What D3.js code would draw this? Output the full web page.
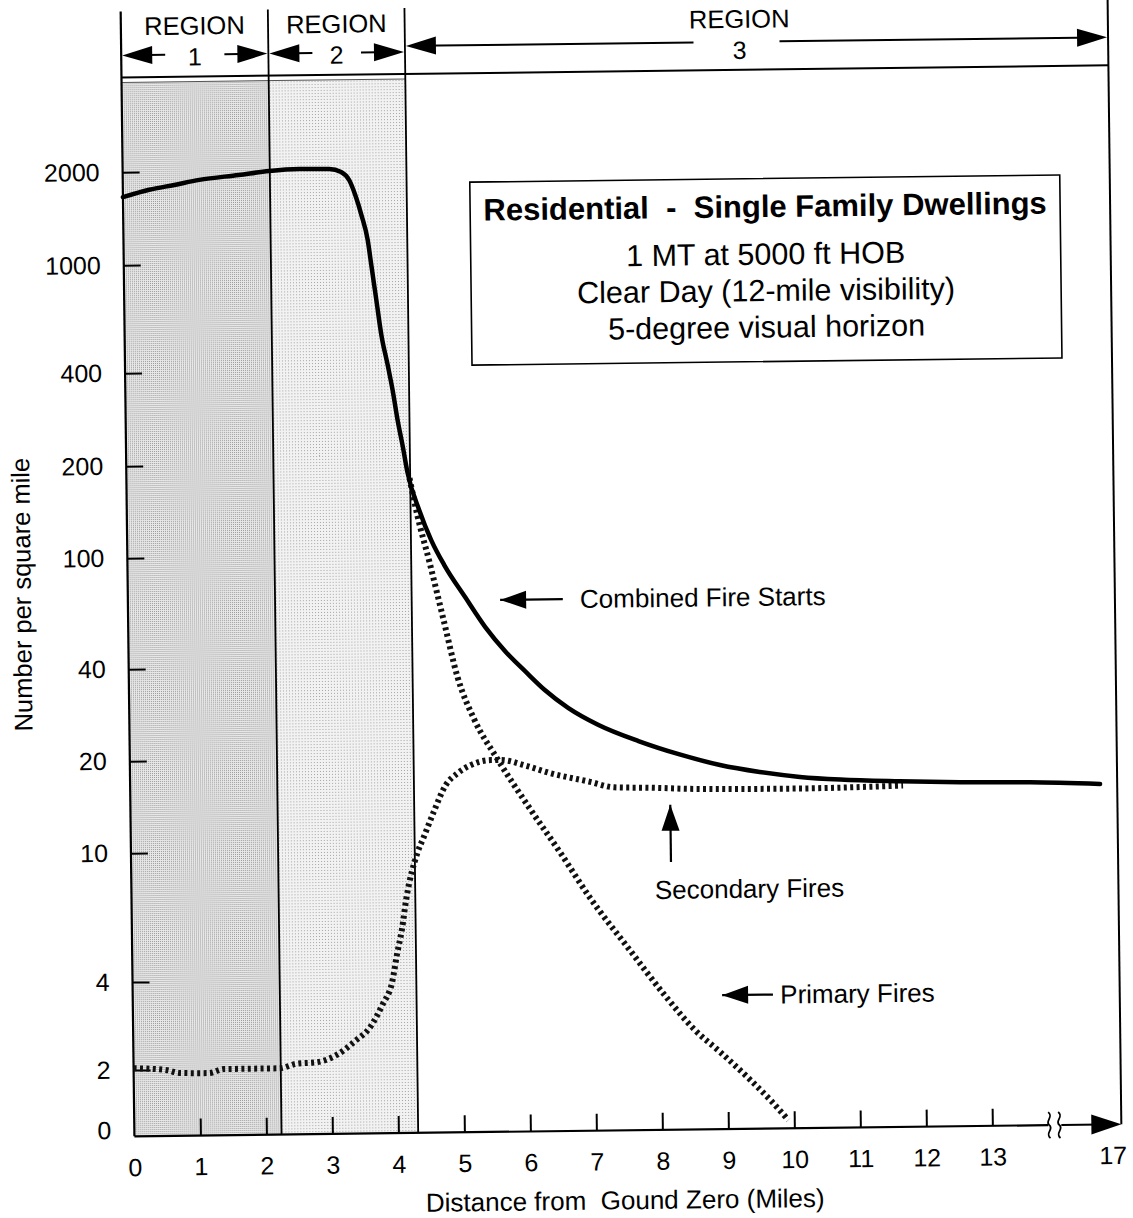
<!DOCTYPE html>
<html><head><meta charset="utf-8">
<script src="https://cdn.jsdelivr.net/npm/d3@7"></script>
<style>
html,body{margin:0;padding:0;background:#fff;}
svg{display:block;font-family:"Liberation Sans",Arial,Helvetica,sans-serif;}
</style></head><body>
<svg id="chart" width="1133" height="1218"></svg>
<script>
// ---------------- DATA ----------------
const xLabelValues = [0,1,2,3,4,5,6,7,8,9,10,11,12,13,17];
const xTickMarkValues = [1,2,3,4,5,6,7,8,9,10,11,12,13];
const yTickValues = [0,2,4,10,20,40,100,200,400,1000,2000];
const yTickLabels = ["0","2","4","10","20","40","100","200","400","1000","2000"];

const regionBounds = [0, 2.23, 4.30, 17];
const regionNames = ["1","2","3"];

const combinedX = [0,0.40,0.78,1.16,1.76,2.22,2.68,3.13,3.31,3.43,3.52,3.61,3.70,3.75,3.82,3.89,3.98,4.05,4.12,4.19,4.26,4.43,4.61,4.80,5.11,5.41,5.72,6.02,6.30,6.65,7.10,7.71,8.33,8.94,9.54,10.15,10.76,11.66,12.58,14.30,16.47];
const combinedY = [1660,1750,1810,1875,1938,1991,2014,2010,1963,1848,1652,1422,1180,977,725,538,417,344,275,228,186,140,111,91.5,70.1,54.6,44.3,37.7,32.9,28.7,25.2,22.2,20.0,18.4,17.4,16.7,16.3,16.0,15.8,15.7,15.4];

const primaryX = [4.29,4.40,4.58,4.78,4.98,5.23,5.56,6.05,6.50,6.94,7.54,8.06,8.51,8.89,9.34,9.64,9.91];
const primaryY = [178,135,93.2,58.1,36.6,26.4,19.8,13.5,9.70,7.03,4.81,3.43,2.60,2.18,1.67,1.35,1.09];

const secondaryX = [0,0.51,0.69,1.14,1.37,2.21,2.47,2.77,3.08,3.38,3.58,3.78,3.94,4.01,4.09,4.16,4.34,4.44,4.59,4.78,4.96,5.16,5.47,5.62,5.98,6.36,6.97,7.34,7.89,8.57,10.09,11.71];
const secondaryY = [2.03,1.99,1.93,1.92,2.0,2.0,2.07,2.09,2.21,2.48,2.72,3.26,3.96,4.74,5.66,7.0,9.77,11.0,13.2,16.2,17.7,18.8,19.5,19.5,18.7,17.6,16.4,15.7,15.6,15.4,15.3,15.5];

// annotation anchors (data units)
const annotations = [
  {text:"Combined Fire Starts", tip:[5.64,68.2], tail:[6.59,68.2], label:[6.85,68.2]},
  {text:"Secondary Fires", tip:[8.18,13.7], tail:[8.18,8.96], label:[7.93,7.36]},
  {text:"Primary Fires", tip:[8.93,3.41], tail:[9.70,3.41], label:[9.81,3.41]}
];
const boxLines = ["Residential  -  Single Family Dwellings","1 MT at 5000 ft HOB","Clear Day (12-mile visibility)","5-degree visual horizon"];

// ---------------- LAYOUT ----------------
const L = {left:128, right:1115, top:72, bottom:1131};
const x = d3.scaleLinear().domain([0,13,17]).range([L.left, 986, L.right]);
const yPos = [1131,1064.8,976.8,847.8,755.8,663.8,552.8,460.8,367.8,259.8,166.8];
const yT = v => Math.log10(Math.max(v,1));
const yLin = d3.scaleLinear().domain(yTickValues.map(yT)).range(yPos);
const y = v => yLin(yT(v));

const svg = d3.select("#chart");
const defs = svg.append("defs");
const p1 = defs.append("pattern").attr("id","stip1").attr("patternUnits","userSpaceOnUse").attr("width",2).attr("height",2);
p1.append("rect").attr("width",2).attr("height",2).attr("fill","#e8e8e8");
p1.append("rect").attr("width",1).attr("height",1).attr("fill","#9a9a9a");
const p2 = defs.append("pattern").attr("id","stip2").attr("patternUnits","userSpaceOnUse").attr("width",3).attr("height",3);
p2.append("rect").attr("width",3).attr("height",3).attr("fill","#f2f2f2");
p2.append("rect").attr("width",1).attr("height",1).attr("fill","#a4a4a4");

const g = svg.append("g").attr("transform","rotate(-0.7 566 609)");

// shaded regions
const regions = regionNames.map((n,i)=>({name:n, x0:regionBounds[i], x1:regionBounds[i+1]}));
g.selectAll("rect.shade").data(regions.slice(0,2)).join("rect").attr("class","shade")
  .attr("x",d=>x(d.x0)).attr("y",L.top+5)
  .attr("width",d=>x(d.x1)-x(d.x0)).attr("height",L.bottom-L.top-5)
  .attr("fill",(d,i)=>`url(#stip${i+1})`);
g.append("line").attr("x1",L.left).attr("x2",x(regionBounds[2])).attr("y1",L.top+5).attr("y2",L.top+5)
  .attr("stroke","#555").attr("stroke-width",1);

// frame
const frame = g.append("g").attr("stroke","#000").attr("fill","none");
frame.append("line").attr("x1",L.left).attr("x2",L.right).attr("y1",L.top).attr("y2",L.top).attr("stroke-width",2);
frame.append("line").attr("x1",L.left).attr("x2",L.left).attr("y1",6).attr("y2",L.bottom).attr("stroke-width",2.2);
frame.append("line").attr("x1",L.right).attr("x2",L.right).attr("y1",6).attr("y2",L.bottom).attr("stroke-width",2);
regionBounds.slice(1,3).forEach(b=>{
  frame.append("line").attr("x1",x(b)).attr("x2",x(b)).attr("y1",6).attr("y2",L.bottom).attr("stroke-width",1.8);
});

// x axis baseline with break and arrow
const breakX = 1048;
frame.append("line").attr("x1",L.left).attr("x2",breakX-6).attr("y1",L.bottom).attr("y2",L.bottom).attr("stroke-width",2.2);
frame.append("line").attr("x1",breakX+7).attr("x2",L.right-20).attr("y1",L.bottom).attr("y2",L.bottom).attr("stroke-width",2.2);
[breakX-5, breakX+5].forEach(bx=>{
  frame.append("path").attr("stroke-width",1.8)
    .attr("d",`M${bx-1},${L.bottom-13} C${bx+5},${L.bottom-8} ${bx-5},${L.bottom-4} ${bx},${L.bottom} C${bx+5},${L.bottom+4} ${bx-5},${L.bottom+8} ${bx+1},${L.bottom+13}`);
});

function arrowHead(sel, tx, ty, angleDeg, len=28, hw=9){
  sel.append("path").attr("d",`M0,0 L${-len},${-hw} L${-len},${hw} Z`)
    .attr("fill","#000").attr("stroke","none")
    .attr("transform",`translate(${tx},${ty}) rotate(${angleDeg})`);
}
arrowHead(g, L.right, L.bottom, 0, 30, 10);

// axes
const yAxis = g.append("g").attr("transform",`translate(${L.left},0)`)
  .call(d3.axisLeft(yLin).tickValues(yTickValues.map(yT)).tickFormat((d,i)=>yTickLabels[i])
    .tickSizeInner(-17).tickSizeOuter(0).tickPadding(23));
yAxis.attr("font-size",25).attr("font-family",null).attr("color","#000");
yAxis.select(".domain").remove();
yAxis.selectAll(".tick line").attr("stroke-width",2);
yAxis.selectAll(".tick").filter(d=>d===0).select("line").remove();
yAxis.selectAll(".tick").filter(d=>d===0).select("text").attr("y",-6);

const xAxis = g.append("g").attr("transform",`translate(0,${L.bottom})`)
  .call(d3.axisBottom(x).tickValues(xLabelValues).tickFormat(d3.format("d"))
    .tickSizeInner(-17).tickSizeOuter(0).tickPadding(22));
xAxis.attr("font-size",25).attr("font-family",null).attr("color","#000");
xAxis.select(".domain").remove();
xAxis.selectAll(".tick line").attr("stroke-width",2);
xAxis.selectAll(".tick").filter(d=>!xTickMarkValues.includes(d)).select("line").remove();
xAxis.selectAll(".tick").filter(d=>d===17).select("text").attr("dx",-9);

// axis titles
g.append("text").attr("x",618).attr("y",1201).attr("text-anchor","middle").attr("dominant-baseline","central")
  .attr("font-size",26).style("white-space","pre").text("Distance from  Gound Zero (Miles)");
g.append("text").attr("transform","translate(22,588) rotate(-90)").attr("text-anchor","middle")
  .attr("dominant-baseline","central").attr("font-size",25.5).text("Number per square mile");

// curves
const line = d3.line().x(d=>x(d[0])).y(d=>y(d[1])).curve(d3.curveMonotoneX);
const zip = (a,b)=>a.map((v,i)=>[v,b[i]]);
g.append("path").datum(zip(secondaryX,secondaryY)).attr("d",line)
  .attr("fill","none").attr("stroke","#111").attr("stroke-width",6).attr("stroke-dasharray","3,3.4");
g.append("path").datum(zip(primaryX,primaryY)).attr("d",line)
  .attr("fill","none").attr("stroke","#111").attr("stroke-width",6).attr("stroke-dasharray","3,3.4");
g.append("path").datum(zip(combinedX,combinedY)).attr("d",line)
  .attr("fill","none").attr("stroke","#000").attr("stroke-width",4.5).attr("stroke-linecap","round").attr("stroke-linejoin","round");

// annotations
annotations.forEach(a=>{
  const tx=x(a.tip[0]), ty=y(a.tip[1]), sx=x(a.tail[0]), sy=y(a.tail[1]);
  const ang = Math.atan2(ty-sy, tx-sx)*180/Math.PI;
  g.append("line").attr("x1",sx).attr("y1",sy).attr("x2",tx).attr("y2",ty).attr("stroke","#000").attr("stroke-width",2.2);
  arrowHead(g, tx, ty, ang, 26, 9);
  g.append("text").attr("x",x(a.label[0])).attr("y",y(a.label[1])).attr("dominant-baseline","central")
    .attr("font-size",26).text(a.text);
});

// info box
const box = {x0:475, x1:1065, y0:181, y1:364};
g.append("rect").attr("x",box.x0).attr("y",box.y0).attr("width",box.x1-box.x0).attr("height",box.y1-box.y0)
  .attr("fill","#fff").attr("stroke","#000").attr("stroke-width",1.6);
const boxY = [209,256,292.5,329];
boxLines.forEach((t,i)=>{
  g.append("text").attr("x",(box.x0+box.x1)/2).attr("y",boxY[i]).attr("text-anchor","middle")
    .attr("dominant-baseline","central").attr("font-size",i===0?31:30.5).attr("font-weight",i===0?"bold":"normal")
    .style("white-space","pre").text(t);
});

// region header
const labelDx = [0,0,-17];
const arrowY = [50,50,44];
regions.forEach((r,i)=>{
  const a=x(r.x0), b=x(r.x1), c=(a+b)/2+labelDx[i];
  g.append("text").attr("x",c).attr("y",21).attr("text-anchor","middle").attr("dominant-baseline","central")
    .attr("font-size",25.5).text("REGION");
  g.append("text").attr("x",c).attr("y",52).attr("text-anchor","middle").attr("dominant-baseline","central")
    .attr("font-size",25).text(r.name);
  const ay = arrowY[i];
  const lEnd = i===2 ? c-46 : a+44;
  const rStart = i===2 ? c+40 : b-44;
  g.append("line").attr("x1",a+10).attr("x2",lEnd).attr("y1",ay).attr("y2",ay).attr("stroke","#000").attr("stroke-width",2);
  g.append("line").attr("x1",rStart).attr("x2",b-10).attr("y1",ay).attr("y2",ay).attr("stroke","#000").attr("stroke-width",2);
  arrowHead(g, a+1, ay, 180, 30, 9);
  arrowHead(g, b-1, ay, 0, 30, 9);
});
</script>
</body></html>
